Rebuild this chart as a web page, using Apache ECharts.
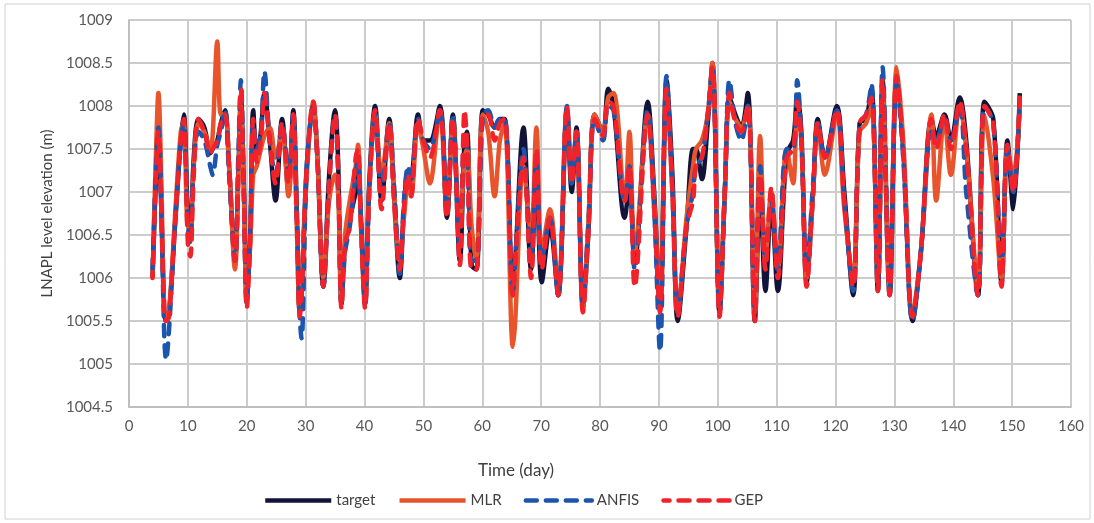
<!DOCTYPE html>
<html>
<head>
<meta charset="UTF-8">
<title>LNAPL level elevation</title>
<script src="https://cdn.jsdelivr.net/npm/echarts@6/dist/echarts.min.js"></script>
</head>
<body style="margin:0;background:#fff;">
<div id="main" style="width:1094px;height:523px;"></div>
<script>
// time (day) of each reading, with the four series
var days = [4.0,4.6,5.0,5.4,6.0,6.3,6.8,7.8,8.8,9.3,10.0,10.4,11.0,11.8,12.8,13.8,14.2,15.0,15.6,16.3,
  17.0,18.0,18.6,19.0,19.5,20.0,20.6,21.1,21.7,22.4,23.0,23.9,24.9,26.0,27.1,27.9,28.5,29.0,29.3,30.2,
  31.3,32.0,33.0,34.0,35.0,35.5,36.1,36.7,37.5,38.5,38.9,39.4,40.1,40.8,41.8,42.9,44.2,45.0,46.0,46.7,
  47.4,47.9,49.1,50.0,51.1,52.8,54.0,55.0,56.2,57.0,57.4,58.2,59.0,60.1,61.0,62.1,63.0,63.8,65.2,65.6,
  67.0,68.3,69.2,70.1,71.5,72.9,74.4,75.2,76.0,77.1,78.0,79.1,80.5,81.4,82.3,84.2,85.0,85.9,88.1,89.2,
  90.2,91.3,92.3,93.2,94.7,95.8,96.3,97.3,98.3,99.1,100.3,101.2,102.0,103.0,104.0,105.1,106.3,107.2,108.1,109.1,
  110.2,111.7,112.8,113.5,114.2,115.1,116.2,117.0,118.2,120.2,121.5,123.0,124.1,125.2,126.1,127.2,128.0,129.2,130.4,131.5,
  133.1,134.5,136.3,137.1,138.5,139.6,141.1,142.2,144.2,145.3,146.8,148.2,149.2,150.2,151.3];

var target = [1006.0,1007.2,1007.7,1007.0,1005.6,1005.5,1005.6,1006.6,1007.6,1007.9,1006.7,1006.5,1007.4,1007.85,1007.75,1007.45,1007.5,1007.6,1007.8,1007.95,
  1007.3,1006.2,1007.3,1008.1,1007.1,1005.75,1006.5,1007.95,1007.4,1007.7,1008.15,1007.6,1006.9,1007.85,1007.0,1007.95,1006.8,1005.6,1005.8,1007.3,
  1008.0,1007.4,1005.9,1007.2,1007.95,1007.4,1005.7,1006.4,1006.7,1007.0,1007.3,1006.7,1005.7,1007.1,1008.0,1006.9,1007.85,1007.0,1006.0,1006.8,
  1007.25,1007.2,1007.9,1007.6,1007.6,1008.0,1006.7,1007.9,1006.2,1007.6,1007.7,1006.15,1006.1,1007.95,1007.9,1007.75,1007.85,1007.85,1005.8,1006.2,
  1007.75,1006.1,1007.2,1005.95,1006.6,1005.8,1007.95,1007.0,1007.75,1005.65,1006.5,1007.9,1007.7,1008.2,1008.0,1006.7,1007.1,1006.2,1008.05,1007.0,
  1005.7,1008.3,1007.2,1005.5,1006.6,1007.5,1007.5,1007.15,1007.8,1008.5,1005.6,1007.0,1008.1,1007.9,1007.75,1008.15,1005.5,1007.0,1005.85,1006.9,
  1005.85,1007.45,1007.6,1008.1,1007.7,1005.95,1007.0,1007.85,1007.4,1008.0,1007.0,1005.8,1007.8,1007.85,1008.2,1005.85,1008.3,1005.8,1008.35,1007.5,
  1005.5,1006.3,1007.85,1007.65,1007.9,1007.6,1008.1,1007.6,1005.8,1008.05,1007.85,1005.95,1007.6,1006.8,1008.15];

var mlr = [1006.0,1007.5,1008.15,1007.4,1005.6,1005.55,1005.6,1006.7,1007.7,1007.8,1006.6,1006.6,1007.3,1007.8,1007.7,1007.5,1007.65,1008.75,1007.9,1007.9,
  1007.3,1006.1,1007.2,1008.0,1007.0,1005.8,1006.4,1007.2,1007.3,1007.5,1007.65,1007.75,1007.4,1007.7,1006.95,1007.8,1006.6,1005.6,1005.9,1007.2,
  1008.05,1007.4,1006.0,1006.9,1007.2,1007.0,1005.75,1006.5,1006.9,1007.3,1007.55,1006.6,1005.7,1007.0,1007.9,1007.2,1007.8,1007.0,1006.2,1006.7,
  1007.1,1006.95,1007.8,1007.5,1007.1,1007.95,1006.8,1007.8,1006.6,1007.4,1007.5,1006.6,1006.2,1007.9,1007.7,1006.95,1007.6,1007.8,1005.2,1005.5,
  1007.3,1006.5,1007.75,1006.3,1006.8,1005.85,1007.95,1007.2,1007.7,1005.65,1006.6,1007.9,1007.7,1008.1,1008.15,1006.9,1007.7,1006.3,1007.9,1006.9,
  1005.7,1008.2,1007.0,1005.6,1006.7,1007.3,1007.5,1007.6,1007.9,1008.5,1005.7,1007.0,1008.05,1007.85,1007.75,1008.0,1005.6,1007.65,1006.2,1007.0,
  1006.1,1007.5,1007.1,1007.9,1007.6,1006.0,1007.0,1007.8,1007.2,1007.9,1006.8,1006.0,1007.7,1007.8,1008.0,1006.0,1008.2,1005.9,1008.45,1007.6,
  1005.6,1006.3,1007.9,1006.9,1007.85,1007.2,1008.0,1007.5,1005.9,1007.9,1007.15,1006.0,1007.5,1007.2,1008.0];

var anfis = [1006.1,1007.3,1007.75,1007.1,1005.3,1005.05,1005.4,1006.6,1007.6,1007.8,1006.6,1006.4,1007.3,1007.7,1007.6,1007.3,1007.2,1007.55,1007.7,1007.95,
  1007.2,1006.2,1007.5,1008.3,1007.0,1005.7,1006.6,1007.8,1007.5,1007.7,1008.4,1007.6,1007.2,1007.8,1007.2,1007.9,1006.7,1005.55,1005.3,1007.3,
  1008.0,1007.4,1005.9,1007.1,1007.9,1007.3,1005.7,1006.3,1006.6,1007.2,1007.4,1006.7,1005.7,1007.0,1007.9,1007.0,1007.8,1007.1,1006.05,1006.9,
  1007.3,1007.1,1007.85,1007.6,1007.5,1007.95,1006.75,1007.9,1006.3,1007.7,1007.6,1006.2,1006.2,1007.9,1007.95,1007.75,1007.85,1007.85,1005.8,1006.2,
  1007.5,1006.2,1007.4,1006.2,1006.7,1005.8,1008.0,1007.1,1007.7,1005.7,1006.6,1007.85,1007.6,1008.0,1007.95,1006.9,1007.3,1006.1,1007.95,1006.8,
  1005.15,1008.35,1007.0,1005.6,1006.6,1007.0,1007.3,1007.4,1007.9,1008.45,1005.6,1007.0,1008.3,1007.8,1007.6,1008.0,1005.6,1007.3,1006.2,1006.9,
  1006.1,1007.5,1007.5,1008.3,1007.6,1006.1,1007.1,1007.8,1007.4,1007.95,1006.9,1005.85,1007.8,1007.9,1008.25,1005.9,1008.45,1005.85,1008.3,1007.4,
  1005.5,1006.3,1007.7,1007.6,1007.85,1007.6,1008.0,1007.0,1005.8,1008.0,1007.8,1006.1,1007.5,1007.0,1008.05];

var gep = [1006.0,1007.2,1007.7,1007.0,1005.55,1005.5,1005.55,1006.6,1007.6,1007.85,1006.4,1006.25,1007.2,1007.85,1007.7,1007.45,1007.5,1007.6,1007.8,1007.9,
  1007.3,1006.2,1007.3,1008.2,1007.0,1005.65,1006.5,1007.85,1007.35,1007.6,1008.15,1007.6,1007.1,1007.8,1007.1,1007.9,1006.7,1005.55,1005.8,1007.3,
  1008.05,1007.4,1005.9,1007.1,1007.9,1007.3,1005.65,1006.4,1006.6,1007.4,1007.5,1006.6,1005.65,1007.0,1007.95,1006.8,1007.8,1006.9,1006.1,1006.8,
  1007.2,1006.95,1007.85,1007.6,1007.4,1007.95,1006.7,1007.85,1006.15,1007.95,1007.6,1006.1,1006.1,1007.9,1007.9,1007.6,1007.8,1007.85,1005.8,1006.2,
  1007.4,1006.0,1007.5,1006.1,1006.7,1005.8,1008.0,1007.1,1007.7,1005.6,1006.5,1007.85,1007.65,1008.05,1008.0,1006.9,1007.3,1005.9,1007.9,1006.8,
  1005.6,1008.2,1007.0,1005.55,1006.6,1006.9,1007.3,1007.4,1007.9,1008.45,1005.55,1007.0,1008.15,1007.8,1007.7,1008.0,1005.5,1007.2,1006.1,1007.05,
  1006.0,1007.4,1007.5,1008.05,1007.6,1005.9,1007.0,1007.8,1007.4,1007.95,1006.9,1005.9,1007.8,1007.9,1008.1,1005.85,1008.3,1005.8,1008.35,1007.5,
  1005.55,1006.3,1007.85,1007.5,1007.9,1007.5,1008.05,1007.5,1005.8,1008.0,1007.8,1005.9,1007.55,1007.0,1008.1];

var xTicks = {min: 0, max: 160, step: 10};
var yTicks = {min: 1004.5, max: 1009, step: 0.5};

function pairs(vals) {
  var out = [];
  for (var i = 0; i < days.length; i++) out.push([days[i], vals[i]]);
  return out;
}

var myChart = echarts.init(document.getElementById('main'));
var font = 'Lato, "Open Sans", sans-serif';
var option = {
  backgroundColor: '#fff',
  animation: false,
  textStyle: {fontFamily: font},
  graphic: [{
    type: 'rect',
    shape: {x: 5, y: 4, width: 1085, height: 515},
    style: {fill: 'none', stroke: '#d0d0d0', lineWidth: 1}
  }],
  title: {
    text: 'Time (day)',
    left: 511, top: 457, textAlign: 'center',
    textStyle: {fontSize: 17, fontWeight: 'normal', color: '#404040', fontFamily: font}
  },
  grid: {left: 129, right: 23, top: 20, bottom: 116},
  legend: {
    bottom: 10, left: 258,
    itemWidth: 66, itemHeight: 14, itemGap: 22,
    itemStyle: {opacity: 0},
    lineStyle: {width: 4.5},
    textStyle: {fontSize: 15, color: '#404040'},
    data: ['target', 'MLR', 'ANFIS', 'GEP']
  },
  xAxis: {
    type: 'value',
    min: xTicks.min, max: xTicks.max, interval: xTicks.step,
    axisLine: {lineStyle: {color: '#bfbfbf', width: 2}},
    axisTick: {show: false},
    axisLabel: {fontSize: 15, color: '#595959', margin: 12},
    splitLine: {show: true, lineStyle: {color: '#cccccc', width: 2}}
  },
  yAxis: {
    type: 'value',
    min: yTicks.min, max: yTicks.max, interval: yTicks.step,
    name: 'LNAPL level elevation (m)',
    nameLocation: 'middle', nameGap: 72,
    nameTextStyle: {fontSize: 15, color: '#404040'},
    axisLine: {show: true, lineStyle: {color: '#bfbfbf', width: 2}},
    axisTick: {show: false},
    axisLabel: {fontSize: 15, color: '#595959', margin: 16, formatter: function (v) { return String(v); }},
    splitLine: {lineStyle: {color: '#cccccc', width: 2}}
  },
  series: [
    {name: 'target', type: 'line', data: pairs(target), showSymbol: false, symbol: 'none', smooth: 0.35,
     itemStyle: {color: '#121338'}, lineStyle: {color: '#121338', width: 4.5}},
    {name: 'MLR', type: 'line', data: pairs(mlr), showSymbol: false, symbol: 'none', smooth: 0.35,
     itemStyle: {color: '#e8542b'}, lineStyle: {color: '#e8542b', width: 4.5}},
    {name: 'ANFIS', type: 'line', data: pairs(anfis), showSymbol: false, symbol: 'none', smooth: 0.35,
     itemStyle: {color: '#1c55ae'}, lineStyle: {color: '#1c55ae', width: 4.5, type: [11, 9], cap: 'round'}},
    {name: 'GEP', type: 'line', data: pairs(gep), showSymbol: false, symbol: 'none', smooth: 0.35,
     itemStyle: {color: '#f2222a'}, lineStyle: {color: '#f2222a', width: 4.5, type: [11, 9], cap: 'round', dashOffset: 5}}
  ]
};
myChart.setOption(option);
</script>
</body>
</html>
